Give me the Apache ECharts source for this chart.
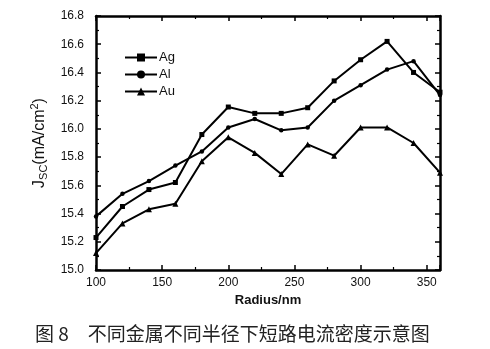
<!DOCTYPE html>
<html><head><meta charset="utf-8">
<script src="https://cdn.jsdelivr.net/npm/echarts@6/dist/echarts.min.js"></script>
<style>html,body{margin:0;padding:0;background:#fff}#c{width:490px;height:349px}</style>
</head><body><div id="c"></div>
<script>
const radius = [100,120,140,160,180,200,220,240,260,280,300,320,340,360];
const ag = [15.23,15.45,15.57,15.62,15.96,16.155,16.11,16.11,16.15,16.34,16.49,16.62,16.40,16.26];
const al = [15.38,15.54,15.63,15.74,15.84,16.01,16.07,15.99,16.01,16.20,16.31,16.42,16.48,16.24];
const au = [15.12,15.33,15.43,15.47,15.77,15.94,15.83,15.68,15.89,15.81,16.01,16.01,15.90,15.69];
const seriesNames = ['Ag','Al','Au'];
const caption = '图 8\u3000不同金属不同半径下短路电流密度示意图';

const zip = (xs, ys) => xs.map((x,i)=>[x, ys[i]]);
const font = 'Liberation Sans, Arial, sans-serif';
const axisLine = {show:true, lineStyle:{color:'#000', width:2.5}};
const tickIn = {show:true, inside:true, length:5, lineStyle:{color:'#000', width:1.5}};
const minorIn = {show:true, splitNumber:2, length:3, lineStyle:{color:'#000', width:1.2}};

const chart = echarts.init(document.getElementById('c'));
chart.setOption({
  animation:false,
  backgroundColor:'#fff',
  title:{text:caption, left:30, top:319, textStyle:{fontFamily:'Noto Sans CJK SC', fontSize:19, fontWeight:'normal', color:'#222'}},
  grid:{left:96, right:50, top:16, bottom:79},
  legend:{
    data:seriesNames, orient:'vertical', left:119, top:46, itemGap:4, itemWidth:32, itemHeight:10,
    textStyle:{fontFamily:font, fontSize:13, color:'#111', padding:[0,0,0,-3]}
  },
  xAxis:[{
    type:'value', min:100, max:360, interval:50,
    name:'Radius/nm', nameLocation:'middle', nameGap:24,
    nameTextStyle:{fontFamily:font, fontSize:13, color:'#111', fontWeight:'bold'},
    axisLine, axisTick:tickIn, minorTick:minorIn, splitLine:{show:false},
    axisLabel:{fontFamily:font, fontSize:12, color:'#111', margin:7, showMaxLabel:false,
      formatter:v=>(v===360?'':String(v))}
  },{
    type:'value', position:'top', min:100, max:360, interval:50,
    axisLine, axisTick:tickIn, minorTick:minorIn, splitLine:{show:false}, axisLabel:{show:false}
  }],
  yAxis:[{
    type:'value', min:15.0, max:16.8, interval:0.2,
    name:'{j|J}{s|SC}{j|(mA/cm}{p|2}{j|)}', nameLocation:'middle', nameGap:46, nameRotate:90,
    nameTextStyle:{rich:{
      j:{fontFamily:font, fontSize:16, color:'#111'},
      s:{fontFamily:font, fontSize:11, color:'#111', verticalAlign:'bottom', padding:[7,0,0,0]},
      p:{fontFamily:font, fontSize:11, color:'#111', verticalAlign:'top', padding:[0,0,9,0]}
    }},
    axisLine, axisTick:tickIn, minorTick:minorIn, splitLine:{show:false},
    axisLabel:{fontFamily:font, fontSize:12, color:'#111', margin:12, formatter:v=>v.toFixed(1)}
  },{
    type:'value', position:'right', min:15.0, max:16.8, interval:0.2,
    axisLine, axisTick:tickIn, minorTick:minorIn, splitLine:{show:false}, axisLabel:{show:false}
  }],
  series:[
    {name:'Ag', type:'line', data:zip(radius, ag), symbol:'rect', symbolSize:5,
     lineStyle:{color:'#000', width:2}, itemStyle:{color:'#000'}},
    {name:'Al', type:'line', data:zip(radius, al), symbol:'circle', symbolSize:4.5,
     lineStyle:{color:'#000', width:2}, itemStyle:{color:'#000'}},
    {name:'Au', type:'line', data:zip(radius, au), symbol:'triangle', symbolSize:6,
     lineStyle:{color:'#000', width:2}, itemStyle:{color:'#000'}}
  ]
});
</script></body></html>
